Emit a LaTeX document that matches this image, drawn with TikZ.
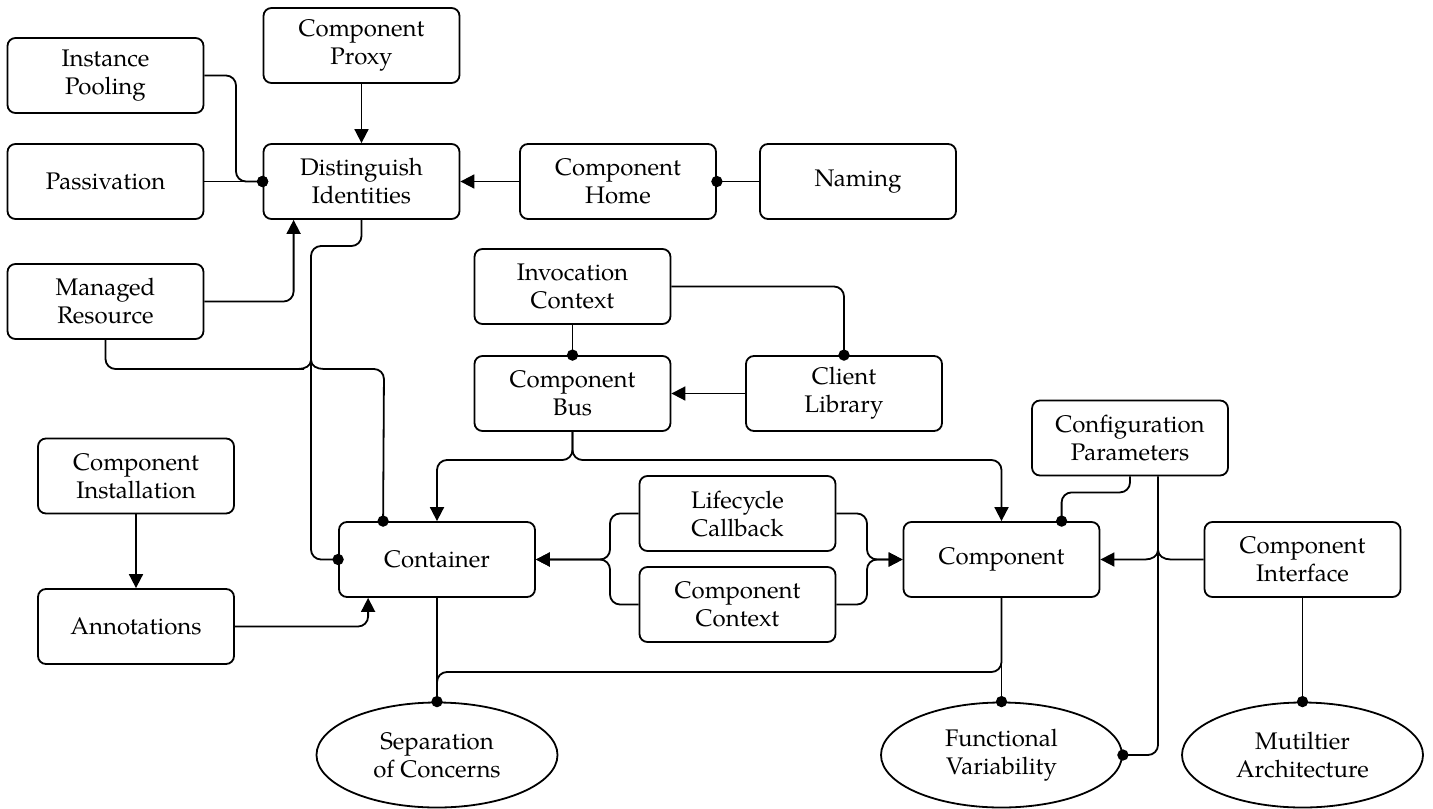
\documentclass[tikz,border=0pt]{standalone}
\usepackage{fontspec}
\setmainfont{TeX Gyre Pagella}
\usetikzlibrary{arrows.meta,shapes.geometric,calc}
\begin{document}
\begin{tikzpicture}[x=0.5pt,y=-0.5pt,
  box/.style={draw,line width=0.9pt,rounded corners=4pt,minimum width=98pt,minimum height=37.5pt,align=center,inner sep=0pt,font=\fontsize{12}{14}\selectfont},
  oval/.style={draw,ellipse,line width=0.9pt,minimum width=120.5pt,minimum height=52.5pt,align=center,inner sep=0pt,font=\fontsize{12}{14}\selectfont},
  conn/.style={line width=0.9pt,rounded corners=5pt},
  arr/.style={conn,-{Triangle[length=7pt,width=7pt]}},
  dotend/.style={conn,-{Circle[length=5.6pt]},shorten >=-2.8pt}
]
\useasboundingbox (0,0) rectangle (1433,808);
\fill[white] (0,0) rectangle (1433,808);

% nodes
\node[box] (pool)    at (105.5,75.5)  {Instance\\Pooling};
\node[box] (proxy)   at (361.5,45.5)  {Component\\Proxy};
\node[box] (passiv)  at (105.5,181.5) {Passivation};
\node[box] (dist)    at (361.5,181.5) {Distinguish\\Identities};
\node[box] (home)    at (618,181.5)   {Component\\Home};
\node[box] (naming)  at (858,181.5)   {Naming};
\node[box] (managed) at (105.5,301.5) {Managed\\Resource};
\node[box] (invoc)   at (572.5,286.5) {Invocation\\Context};
\node[box] (bus)     at (572.5,393.5) {Component\\Bus};
\node[box] (client)  at (844,393.5)   {Client\\Library};
\node[box] (install) at (136,476)     {Component\\Installation};
\node[box] (annot)   at (136,626.5)   {Annotations};
\node[box] (container) at (437,559.5) {Container};
\node[box] (lc)      at (737.5,513.5) {Lifecycle\\Callback};
\node[box] (cc)      at (737.5,604.5) {Component\\Context};
\node[box] (component) at (1001.5,559.5) {Component};
\node[box] (config)  at (1130,438)    {Configuration\\Parameters};
\node[box] (iface)   at (1302.5,559.5) {Component\\Interface};
\node[oval] (sep)    at (437,755)     {Separation\\of Concerns};
\node[oval] (fv)     at (1001.5,755)  {Functional\\Variability};
\node[oval] (multi)  at (1302.5,755)  {Mutiltier\\Architecture};

% connectors
\draw[arr] (proxy.south) -- (dist.north);
\draw[dotend] (pool.east) -- (236,75.5) -- (236,181.5) -- (dist.west);
\draw[dotend] (passiv.east) -- (dist.west);
\draw[arr] (managed.east) -| ($(dist.south west)+(31,0)$);
\draw[arr] (home.west) -- (dist.east);
\draw[dotend] (naming.west) -- (home.east);
\draw[dotend] (dist.south) -- (361.5,246) -- (311,246) -- (311,559.5) -- (container.west);
\draw[dotend] (managed.south) -- (105.5,369) -- (294,369) [sharp corners] -- (298,369)
   .. controls (305,369) and (311,366) .. (311,360)
   .. controls (311,366) and (317,369) .. (324,369)
   -- (328,369) [rounded corners=5pt] -- (384,369) -- ($(container.north west)+(45,0)$);
\draw[dotend] (invoc.south) -- (bus.north);
\draw[dotend] (invoc.east) -| (client.north);
\draw[arr] (client.west) -- (bus.east);
\draw[arr] (bus.south) -- (572.5,460) -| (container.north);
\draw[arr] (bus.south) -- (572.5,460) -| (component.north);
\draw[arr] (install.south) -- (annot.north);
\draw[arr] (annot.east) -| ($(container.south west)+(30,0)$);
\draw[arr] (lc.west) -| (610,559.5) -- (container.east);
\draw[arr] (cc.west) -| (610,559.5) -- (container.east);
\draw[arr] (lc.east) -| (867,559.5) -- (component.west);
\draw[arr] (cc.east) -| (867,559.5) -- (component.west);
\draw[dotend] (config.south) -- ++(0,16) -| ($(component.north west)+(159,0)$);
\draw[dotend] ($(config.south)+(28,0)$) |- (fv.east);
\draw[arr,sharp corners] (iface.west) -- (1171,559.5)
   .. controls (1164,559.5) and (1158,556) .. (1158,550)
   .. controls (1158,556) and (1152,559.5) .. (1145,559.5)
   -- (component.east);
\draw[conn] (component.south) -- (1001.5,672) -- (437,672) -- (sep.north);
\draw[dotend] (container.south) -- (sep.north);
\draw[dotend] (component.south) -- (fv.north);
\draw[dotend] (iface.south) -- (multi.north);
\end{tikzpicture}
\end{document}
